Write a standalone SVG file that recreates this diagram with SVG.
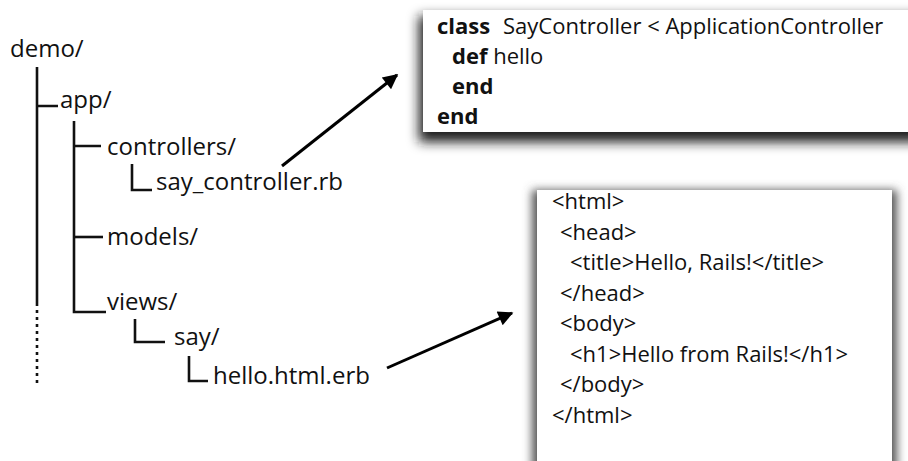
<svg xmlns="http://www.w3.org/2000/svg" width="908" height="461" viewBox="0 0 908 461">
  <defs>
    <filter id="blur1" x="-20%" y="-30%" width="140%" height="160%">
      <feGaussianBlur stdDeviation="6"/>
    </filter>
    <filter id="blur2" x="-20%" y="-20%" width="140%" height="140%">
      <feGaussianBlur stdDeviation="5"/>
    </filter>
    <marker id="ah" viewBox="0 0 10 10" refX="9" refY="5" markerWidth="6" markerHeight="5" markerUnits="strokeWidth" orient="auto">
      <path d="M0,0 L10,5 L0,10 z" fill="#000"/>
    </marker>
  </defs>
  <style>
    .t { font-family: "Open Sans", "Noto Sans", "Liberation Sans", sans-serif; font-size: 24px; fill: #111; }
    .c { font-family: "Open Sans", "Noto Sans", "Liberation Sans", sans-serif; font-size: 22px; fill: #111; }
    .b { font-weight: bold; }
    .tree { stroke: #111; stroke-width: 2.6; fill: none; }
    .arrow { stroke: #000; stroke-width: 3; fill: none; }
  </style>
  <rect width="908" height="461" fill="#fff"/>

  <g id="tree">
    <g id="demo"><text class="t" x="10" y="57">demo/</text></g>
    <g id="app"><path class="tree" d="M37,67 V306 M37,106 H58"/><text class="t" x="60" y="108">app/</text></g>
    <g id="controllers"><path class="tree" d="M74,121 V312 H106 M74,146 H101"/><text class="t" x="107" y="155">controllers/</text></g>
    <g id="say_controller"><path class="tree" d="M132,164 V190 H152"/><text class="t" x="156" y="190">say_controller.rb</text></g>
    <g id="models"><path class="tree" d="M74,237 H103"/><text class="t" x="107" y="245">models/</text></g>
    <g id="views"><text class="t" x="107" y="310">views/</text></g>
    <g id="say"><path class="tree" d="M135,319 V342 H165"/><text class="t" x="174" y="345">say/</text></g>
    <g id="hello"><path class="tree" d="M189,356 V381 H208"/><text class="t" x="213" y="384">hello.html.erb</text></g>
    <path class="tree" d="M37,310 V384" stroke-dasharray="3 4"/>
  </g>

  <g id="controller-code">
    <rect x="419" y="16" width="520" height="126" fill="#1a1a1a" filter="url(#blur1)"/>
    <rect x="423" y="10" width="500" height="122" fill="#fff"/>
    <text class="c" x="437" y="34"><tspan class="b">class</tspan><tspan x="503">SayController &lt; ApplicationController</tspan></text>
    <text class="c" x="452" y="64"><tspan class="b">def</tspan> hello</text>
    <text class="c b" x="452" y="94">end</text>
    <text class="c b" x="437" y="124">end</text>
  </g>

  <g id="view-code">
    <rect x="532" y="190" width="365" height="300" fill="#555" filter="url(#blur2)"/>
    <rect x="537" y="190" width="355" height="290" fill="#fff"/>
    <text class="c" x="552" y="209">&lt;html&gt;</text>
    <text class="c" x="560" y="240">&lt;head&gt;</text>
    <text class="c" x="570" y="270">&lt;title&gt;Hello, Rails!&lt;/title&gt;</text>
    <text class="c" x="560" y="301">&lt;/head&gt;</text>
    <text class="c" x="560" y="331">&lt;body&gt;</text>
    <text class="c" x="570" y="362">&lt;h1&gt;Hello from Rails!&lt;/h1&gt;</text>
    <text class="c" x="560" y="392">&lt;/body&gt;</text>
    <text class="c" x="552" y="423">&lt;/html&gt;</text>
  </g>

  <g id="connectors">
    <path class="arrow" d="M282,166 L397,75" marker-end="url(#ah)"/>
    <path class="arrow" d="M387,368 L512,313" marker-end="url(#ah)"/>
  </g>
</svg>
